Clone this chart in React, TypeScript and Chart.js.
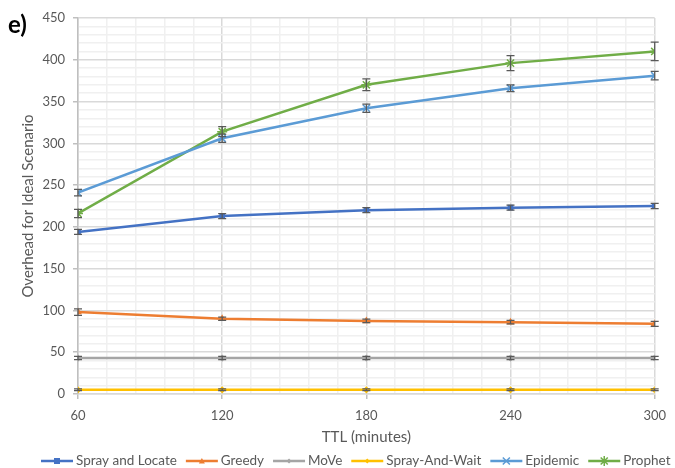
import React, { useEffect, useRef } from 'react';
import { Chart, registerables } from 'chart.js';

Chart.register(...registerables);

const ttl = [60, 120, 180, 240, 300];
const seriesNames = ['Spray and Locate', 'Greedy', 'MoVe', 'Spray-And-Wait', 'Epidemic', 'Prophet'];
const sprayLocate = [194, 213, 220, 223, 225];
const greedy = [98, 90, 87.5, 86, 84];
const move = [43, 43, 43, 43, 43];
const sprayWait = [5, 5, 5, 5, 5];
const epidemic = [241, 306, 342, 366, 381];
const prophet = [216, 314, 370, 396, 410];
const sprayLocateErr = [3, 3, 3, 3, 3];
const greedyErr = [4, 2, 2, 2, 3];
const moveErr = [2, 2, 2, 2, 2];
const sprayWaitErr = [1, 1, 1, 1, 1];
const epidemicErr = [4, 5, 5, 4, 5];
const prophetErr = [5, 6, 7, 9, 11];
const colors = ['#4472C4', '#ED7D31', '#A5A5A5', '#FFC000', '#5B9BD5', '#70AD47'];
const markers = ['rect', 'triangle', 'rectRot', 'rectRot', 'crossRot', 'star'];
const markerSizes = [3, 3, 2.5, 2.5, 5, 5];

const FONT = 'Lato, "Open Sans", sans-serif';
const TEXT = '#595959';

function drawMarker(ctx: CanvasRenderingContext2D, style: string, x: number, y: number, r: number, color: string) {
  ctx.save();
  ctx.fillStyle = color;
  ctx.strokeStyle = color;
  ctx.lineWidth = 1.5;
  ctx.beginPath();
  if (style === 'rect') {
    ctx.rect(x - r, y - r, 2 * r, 2 * r);
    ctx.fill();
  } else if (style === 'triangle') {
    ctx.moveTo(x, y - r);
    ctx.lineTo(x + r, y + r * 0.8);
    ctx.lineTo(x - r, y + r * 0.8);
    ctx.closePath();
    ctx.fill();
  } else if (style === 'rectRot') {
    ctx.moveTo(x, y - r);
    ctx.lineTo(x + r, y);
    ctx.lineTo(x, y + r);
    ctx.lineTo(x - r, y);
    ctx.closePath();
    ctx.fill();
  } else if (style === 'crossRot') {
    const d = r * 0.707;
    ctx.moveTo(x - d, y - d); ctx.lineTo(x + d, y + d);
    ctx.moveTo(x + d, y - d); ctx.lineTo(x - d, y + d);
    ctx.stroke();
  } else if (style === 'star') {
    const d = r * 0.707;
    ctx.moveTo(x - d, y - d); ctx.lineTo(x + d, y + d);
    ctx.moveTo(x + d, y - d); ctx.lineTo(x - d, y + d);
    ctx.moveTo(x, y - r); ctx.lineTo(x, y + r);
    ctx.stroke();
  }
  ctx.restore();
}

export default function App() {
  const ref = useRef<HTMLCanvasElement>(null);
  useEffect(() => {
    const values = [sprayLocate, greedy, move, sprayWait, epidemic, prophet];
    const errors = [sprayLocateErr, greedyErr, moveErr, sprayWaitErr, epidemicErr, prophetErr];

    const errorBars = {
      id: 'errorBars',
      afterDatasetsDraw(chart: any) {
        const ctx = chart.ctx;
        const xs = chart.scales.x;
        const ys = chart.scales.y;
        ctx.save();
        ctx.strokeStyle = '#595959';
        ctx.lineWidth = 1.25;
        values.forEach((vals, i) => {
          vals.forEach((v, j) => {
            const e = errors[i][j];
            const x = xs.getPixelForValue(ttl[j]);
            const y1 = ys.getPixelForValue(v - e);
            const y2 = ys.getPixelForValue(v + e);
            ctx.beginPath();
            ctx.moveTo(x, y1); ctx.lineTo(x, y2);
            ctx.moveTo(x - 4, y1); ctx.lineTo(x + 4, y1);
            ctx.moveTo(x - 4, y2); ctx.lineTo(x + 4, y2);
            ctx.stroke();
          });
        });
        ctx.restore();
      },
    };

    const extras = {
      id: 'extras',
      afterDraw(chart: any) {
        const ctx = chart.ctx;
        ctx.save();
        ctx.fillStyle = '#000';
        ctx.font = `bold 24px ${FONT}`;
        ctx.textBaseline = 'alphabetic';
        ctx.textAlign = 'left';
        ctx.fillText('e)', 8, 33);
        // legend
        ctx.font = `13.5px ${FONT}`;
        ctx.textBaseline = 'middle';
        const y = 461;
        let x = 41;
        seriesNames.forEach((name, i) => {
          ctx.strokeStyle = colors[i];
          ctx.lineWidth = 2.5;
          ctx.beginPath();
          ctx.moveTo(x, y); ctx.lineTo(x + 32, y);
          ctx.stroke();
          drawMarker(ctx, markers[i], x + 16, y, markerSizes[i], colors[i]);
          ctx.fillStyle = TEXT;
          ctx.fillText(name, x + 35, y);
          x += 35 + ctx.measureText(name).width + 9;
        });
        ctx.restore();
      },
    };

    const chart = new Chart(ref.current as HTMLCanvasElement, {
      type: 'line',
      data: {
        datasets: seriesNames.map((name, i) => ({
          label: name,
          data: values[i].map((v, j) => ({ x: ttl[j], y: v })),
          borderColor: colors[i],
          backgroundColor: colors[i],
          borderWidth: 2.5,
          pointStyle: markers[i] as any,
          pointRadius: markerSizes[i],
          pointBorderWidth: 1.5,
          tension: 0,
        })),
      },
      plugins: [errorBars, extras],
      options: {
        animation: false,
        responsive: false,
        maintainAspectRatio: false,
        layout: { padding: { left: 0, right: 18, top: 18, bottom: 22 } },
        plugins: { legend: { display: false }, tooltip: { enabled: false } },
        scales: {
          x: {
            type: 'linear',
            min: 60,
            max: 300,
            afterFit: (s: any) => { s.height = 52; },
            ticks: {
              stepSize: 12,
              autoSkip: false,
              maxRotation: 0,
              padding: 9,
              color: TEXT,
              font: { family: FONT, size: 13 },
              callback: (v: any) => (Number(v) % 60 === 0 ? String(v) : ''),
            },
            grid: {
              color: (c: any) => (c.tick && c.tick.value % 60 === 0 ? '#d9d9d9' : '#f0f0f0'),
              lineWidth: 1.5,
              tickColor: (c: any) => (c.tick && c.tick.value % 60 === 0 ? '#bfbfbf' : 'rgba(0,0,0,0)'),
              tickLength: 5,
            },
            border: { color: '#d9d9d9', width: 1.5 },
            title: {
              display: true,
              text: 'TTL (minutes)',
              color: TEXT,
              font: { family: FONT, size: 15 },
              padding: { top: 0, bottom: 0 },
            },
          },
          y: {
            min: 0,
            max: 450,
            afterFit: (s: any) => { s.width = 78; },
            ticks: {
              stepSize: 10,
              autoSkip: false,
              padding: 8,
              color: TEXT,
              font: { family: FONT, size: 13 },
              callback: (v: any) => (Number(v) % 50 === 0 ? String(v) : ''),
            },
            grid: {
              color: (c: any) => (c.tick && c.tick.value % 50 === 0 ? '#d9d9d9' : '#f0f0f0'),
              lineWidth: 1.5,
              tickColor: (c: any) => (c.tick && c.tick.value % 50 === 0 ? '#bfbfbf' : 'rgba(0,0,0,0)'),
              tickLength: 5,
            },
            border: { color: '#bfbfbf', width: 1.5 },
            title: {
              display: true,
              text: 'Overhead for Ideal Scenario',
              color: TEXT,
              font: { family: FONT, size: 15 },
              padding: { top: 19, bottom: 0 },
            },
          },
        },
      },
    });
    return () => chart.destroy();
  }, []);

  return (
    <div style={{ position: 'fixed', left: 0, top: 0, width: 675, height: 468 }}>
      <canvas ref={ref} width={675} height={468} style={{ width: 675, height: 468 }} />
    </div>
  );
}
